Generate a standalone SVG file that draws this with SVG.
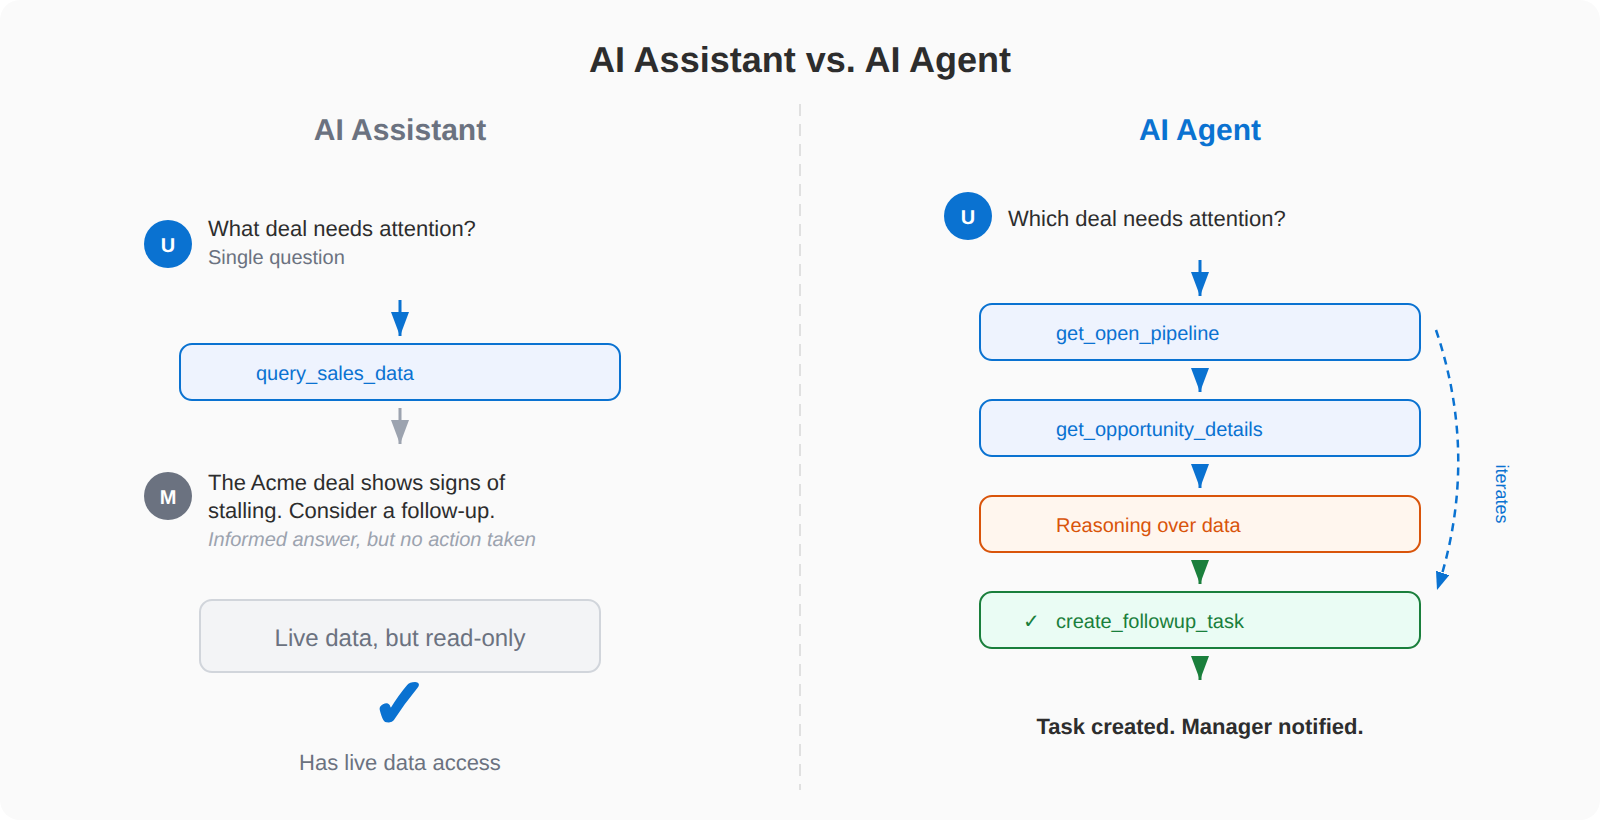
<svg xmlns="http://www.w3.org/2000/svg" width="1600" height="820" viewBox="0 0 1600 820">
<style>
text{font-family:"Liberation Sans",Arial,sans-serif;text-rendering:geometricPrecision}
.title{font-size:36px;font-weight:700;fill:#2d2d2d;text-anchor:middle}
.h{font-size:30px;font-weight:700;text-anchor:middle}
.q{font-size:22px;fill:#2d2d2d}
.sub{font-size:20px;fill:#6b7280}
.av{font-size:20px;font-weight:700;fill:#fff;text-anchor:middle}
.t{font-size:20px}
.b{stroke-width:2}
.blue{fill:#eef3fe;stroke:#0a72d1}
.tb{fill:#0a72d1}
.tg{fill:#1a7f3c}
.to{fill:#d9540a}
.c{stroke-width:3;fill:none}
</style>
<defs>
<marker id="mb" markerUnits="userSpaceOnUse" markerWidth="24" markerHeight="18" refX="24" refY="9" orient="auto" viewBox="0 0 24 18"><path d="M0 0L24 9L0 18Z" fill="#0a72d1"/></marker>
<marker id="mg" markerUnits="userSpaceOnUse" markerWidth="24" markerHeight="18" refX="24" refY="9" orient="auto" viewBox="0 0 24 18"><path d="M0 0L24 9L0 18Z" fill="#9ca3af"/></marker>
<marker id="mv" markerUnits="userSpaceOnUse" markerWidth="24" markerHeight="18" refX="24" refY="9" orient="auto" viewBox="0 0 24 18"><path d="M0 0L24 9L0 18Z" fill="#1a7f3c"/></marker>
<marker id="md" markerUnits="userSpaceOnUse" markerWidth="18" markerHeight="14" refX="18" refY="7" orient="auto" viewBox="0 0 18 14"><path d="M0 0L18 7L0 14Z" fill="#0a72d1"/></marker>
</defs>
<rect id="background" width="1600" height="820" rx="20" fill="#fafafa"/>
<text class="title" x="800" y="72">AI Assistant vs. AI Agent</text>
<line id="divider" x1="800" y1="104" x2="800" y2="790" stroke="#e0e0e0" stroke-width="2" stroke-dasharray="12 8"/>
<text class="h" x="400" y="140" fill="#6b7280">AI Assistant</text>
<text class="h" x="1200" y="140" fill="#0a72d1">AI Agent</text>

<g id="connectors">
<line class="c" x1="400" y1="300" x2="400" y2="336" stroke="#0a72d1" marker-end="url(#mb)"/>
<line class="c" x1="400" y1="408" x2="400" y2="444" stroke="#9ca3af" marker-end="url(#mg)"/>
<line class="c" x1="1200" y1="260" x2="1200" y2="296" stroke="#0a72d1" marker-end="url(#mb)"/>
<line class="c" x1="1200" y1="368" x2="1200" y2="392" stroke="#0a72d1" marker-end="url(#mb)"/>
<line class="c" x1="1200" y1="464" x2="1200" y2="488" stroke="#0a72d1" marker-end="url(#mb)"/>
<line class="c" x1="1200" y1="560" x2="1200" y2="584" stroke="#1a7f3c" marker-end="url(#mv)"/>
<line class="c" x1="1200" y1="656" x2="1200" y2="680" stroke="#1a7f3c" marker-end="url(#mv)"/>
<path d="M1436 330Q1480 460 1437 590" fill="none" stroke-width="2.5" stroke="#0a72d1" stroke-dasharray="8 6" marker-end="url(#md)"/>
</g>

<g id="user-left"><circle cx="168" cy="244" r="24" fill="#0a72d1"/><text class="av" x="168" y="252">U</text></g>
<g id="question-left"><text class="q" x="208" y="236">What deal needs attention?</text><text class="sub" x="208" y="264">Single question</text></g>
<g id="query-sales-data"><rect class="b blue" x="180" y="344" width="440" height="56" rx="12"/><text class="t tb" x="256" y="380">query_sales_data</text></g>
<g id="manager"><circle cx="168" cy="496" r="24" fill="#6b7280"/><text class="av" x="168" y="504">M</text></g>
<g id="answer"><text class="q" x="208" y="490">The Acme deal shows signs of</text><text class="q" x="208" y="518">stalling. Consider a follow-up.</text><text x="208" y="546" font-size="20" font-style="italic" fill="#9ca3af">Informed answer, but no action taken</text></g>
<g id="read-only"><rect x="200" y="600" width="400" height="72" rx="12" fill="#f3f4f6" stroke="#d1d5db" stroke-width="2"/><text x="400" y="646" font-size="24" fill="#6b7280" text-anchor="middle">Live data, but read-only</text></g>
<g id="check"><text x="400" y="727" font-size="68" font-weight="700" fill="#0a72d1" stroke="#0a72d1" stroke-width="2" stroke-linejoin="round" text-anchor="middle">✓</text></g>
<text x="400" y="770" font-size="22" fill="#6b7280" text-anchor="middle">Has live data access</text>

<g id="user-right"><circle cx="968" cy="216" r="24" fill="#0a72d1"/><text class="av" x="968" y="224">U</text></g>
<text class="q" x="1008" y="226">Which deal needs attention?</text>
<g id="get-open-pipeline"><rect class="b blue" x="980" y="304" width="440" height="56" rx="12"/><text class="t tb" x="1056" y="340">get_open_pipeline</text></g>
<g id="get-opportunity-details"><rect class="b blue" x="980" y="400" width="440" height="56" rx="12"/><text class="t tb" x="1056" y="436">get_opportunity_details</text></g>
<g id="reasoning"><rect class="b" x="980" y="496" width="440" height="56" rx="12" fill="#fff6ee" stroke="#d9540a"/><text class="t to" x="1056" y="532">Reasoning over data</text></g>
<g id="create-followup-task"><rect class="b" x="980" y="592" width="440" height="56" rx="12" fill="#eafcf4" stroke="#1a7f3c"/><text class="t tg" x="1023" y="628">✓</text><text class="t tg" x="1056" y="628">create_followup_task</text></g>
<text x="1200" y="734" font-size="22" font-weight="700" fill="#2d2d2d" text-anchor="middle">Task created. Manager notified.</text>
<text x="1496" y="494" font-size="18" fill="#0a72d1" text-anchor="middle" transform="rotate(90 1496 494)">iterates</text>
</svg>
